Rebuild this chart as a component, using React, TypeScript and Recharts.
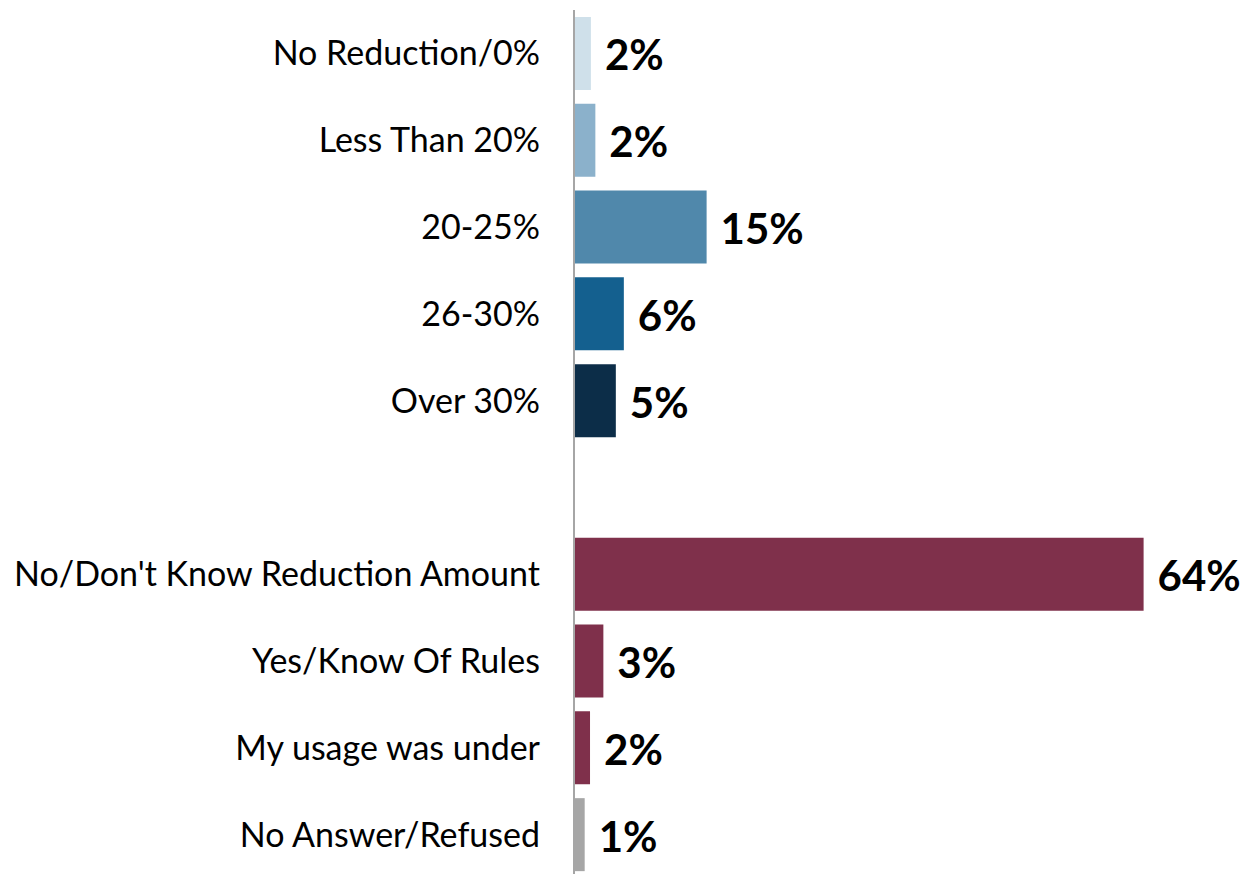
import { BarChart, Bar, XAxis, YAxis, Cell, LabelList } from 'recharts';

const categories = [
  'No Reduction/0%',
  'Less Than 20%',
  '20-25%',
  '26-30%',
  'Over 30%',
  '',
  "No/Don't Know Reduction Amount",
  'Yes/Know Of Rules',
  'My usage was under',
  'No Answer/Refused'
];

const values: (number | null)[] = [1.9, 2.4, 14.9, 5.6, 4.7, null, 64, 3.3, 1.8, 1.2];

const barColors = [
  '#cfe0ea',
  '#8bb1cb',
  '#5088ab',
  '#14608f',
  '#0c2d48',
  '#ffffff',
  '#7f304b',
  '#7f304b',
  '#7f304b',
  '#a6a6a6'
];

const data = categories.map((name, i) => ({ name, value: values[i] }));

const FONT = 'Lato, "Open Sans", sans-serif';

const ValueLabel = (props: any) => {
  const { x, y, width, height, value } = props;
  if (value === null || value === undefined) return null;
  return (
    <text
      x={x + width + 14}
      y={y + height / 2 + 1}
      dominantBaseline="central"
      fontFamily={FONT}
      fontWeight={700}
      fontSize={42}
      fill="#000"
    >
      {`${Math.round(value)}%`}
    </text>
  );
};

const App = () => {
  return (
    <div style={{ position: 'absolute', left: 0, top: 0, background: '#fff' }}>
      <BarChart
        width={1246}
        height={878}
        data={data}
        layout="vertical"
        margin={{ top: 10, right: 49, left: 0, bottom: 0 }}
        barCategoryGap="8%"
      >
        <XAxis type="number" domain={[0, 70]} hide />
        <YAxis
          type="category"
          dataKey="name"
          width={574}
          interval={0}
          tickLine={false}
          tickSize={0}
          tickMargin={34}
          axisLine={{ stroke: '#a6a6a6', strokeWidth: 2 }}
          tick={{ fill: '#000', fontSize: 34, fontFamily: FONT }}
        />
        <Bar dataKey="value" isAnimationActive={false}>
          {data.map((_, i) => (
            <Cell key={i} fill={barColors[i]} />
          ))}
          <LabelList dataKey="value" content={<ValueLabel />} />
        </Bar>
      </BarChart>
    </div>
  );
};

export default App;
